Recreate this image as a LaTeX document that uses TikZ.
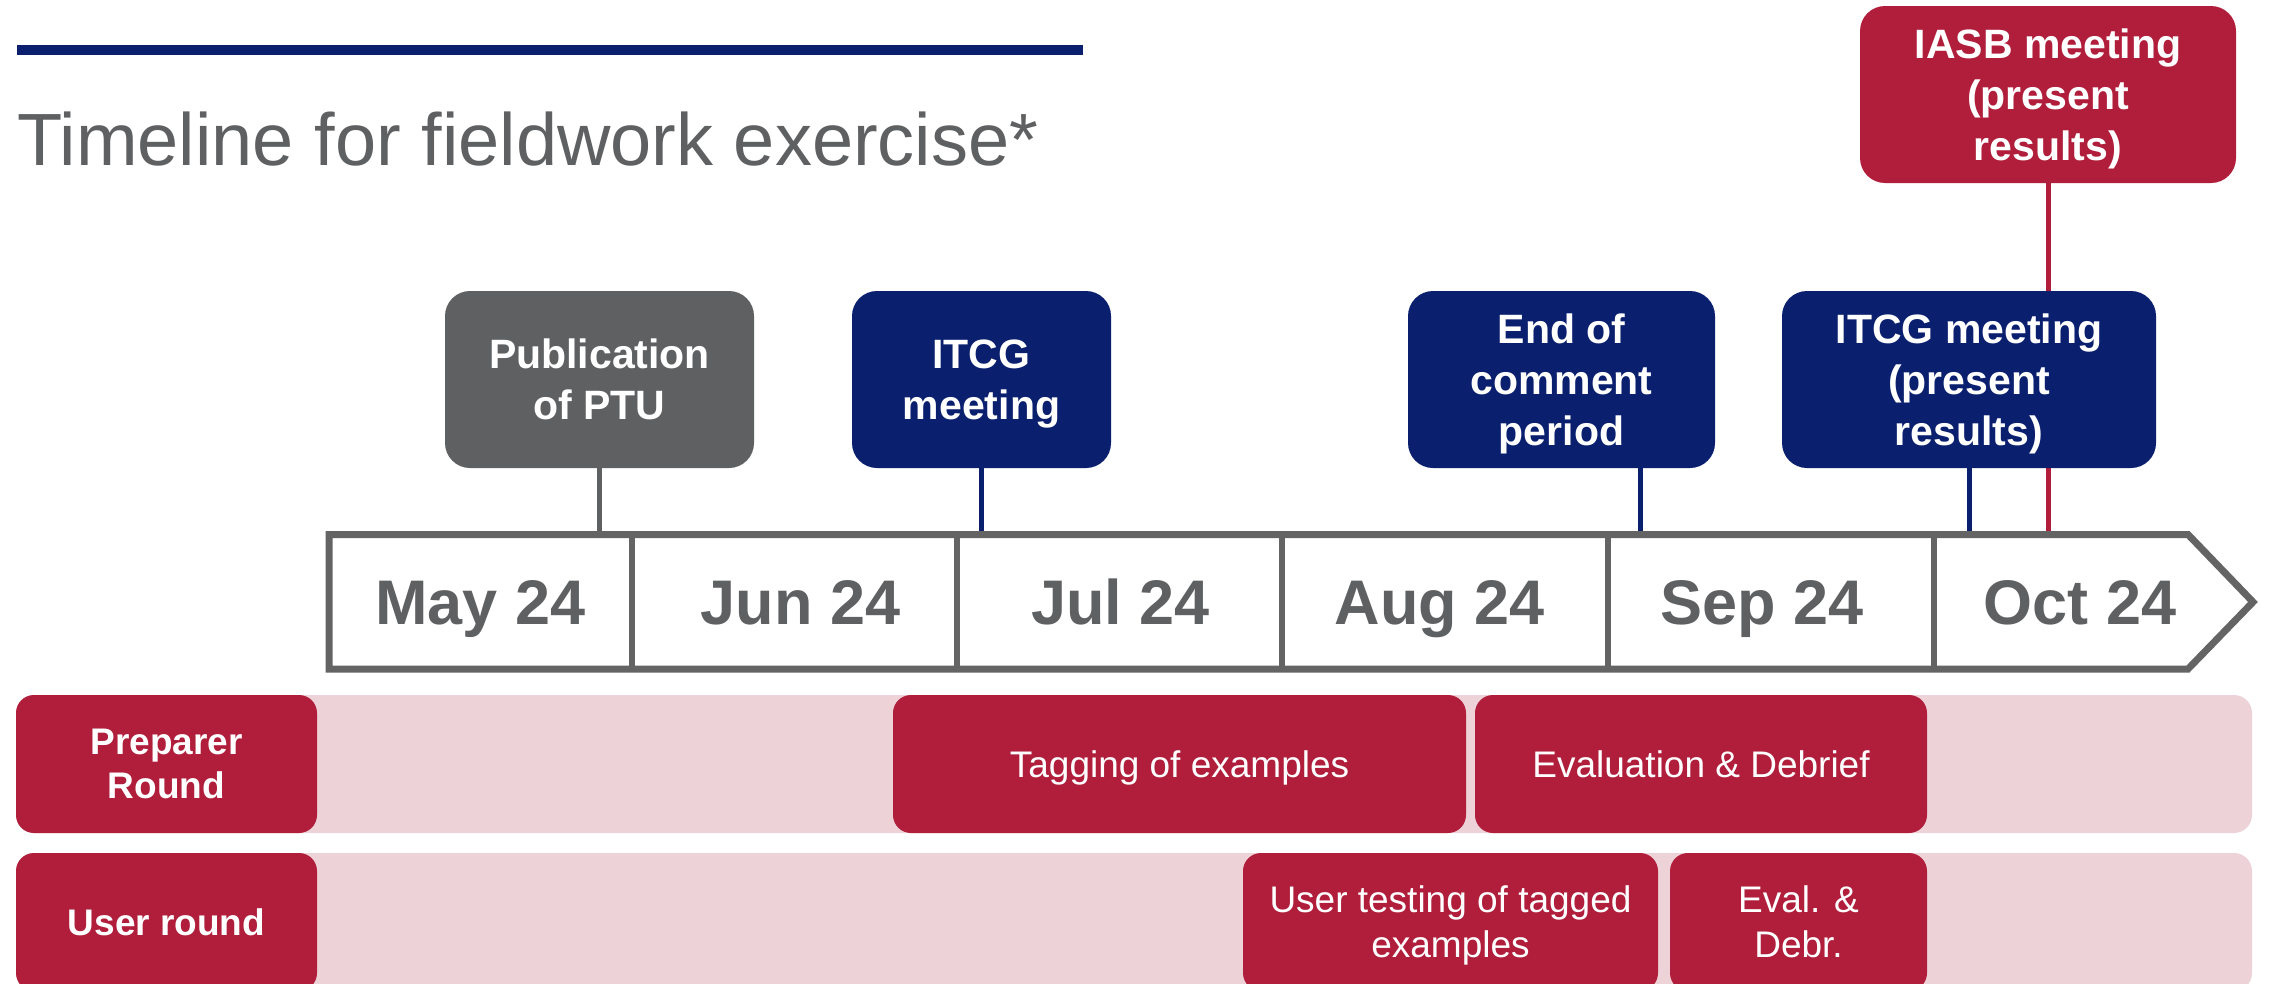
\documentclass[tikz,border=0pt]{standalone}
\usepackage{fontspec}
\setmainfont{Liberation Sans}
\definecolor{navy}{HTML}{0A1F6E}
\definecolor{ifrsred}{HTML}{B01E3B}
\definecolor{boxgray}{HTML}{5F6062}
\definecolor{rowpink}{HTML}{EDD3D8}
\definecolor{tlgray}{HTML}{646464}
\definecolor{txtgray}{HTML}{5F6062}
\newcommand{\nodp}[1]{\raisebox{0pt}[\height][0pt]{#1}}
\begin{document}
\begin{tikzpicture}[x=1pt,y=-1pt,
  evbox/.style={rounded corners=25pt, inner sep=0pt, align=center, text=white,
    font=\fontsize{41pt}{50.7pt}\selectfont\bfseries, minimum height=177pt},
  rowlabel/.style={rounded corners=18pt, fill=ifrsred, inner sep=0pt, align=center, text=white,
    font=\fontsize{37pt}{44pt}\selectfont\bfseries, minimum width=301pt, minimum height=138pt},
  task/.style={rounded corners=18pt, fill=ifrsred, inner sep=0pt, align=center, text=white,
    font=\fontsize{37pt}{45pt}\selectfont, minimum height=138pt},
  rowbg/.style={rounded corners=18pt, fill=rowpink, inner sep=0pt, minimum width=2236pt, minimum height=138pt},
  month/.style={font=\fontsize{63pt}{75pt}\selectfont\bfseries, text=txtgray, inner sep=0pt, anchor=base},
  conn/.style={line width=5pt},
  divider/.style={line width=6pt, draw=tlgray}
]
\clip (0,0) rectangle (2272,983);
\fill[white] (0,0) rectangle (2272,983);

% header
\fill[navy] (17,45) rectangle (1083,55);
\node[anchor=base west, inner sep=0pt, text=txtgray, font=\fontsize{74pt}{88pt}\selectfont] (title) at (17,165) {Timeline for fieldwork exercise*};

% timeline anchor coordinates
\coordinate (tpub) at (599.5,534.5);
\coordinate (titcg) at (981.5,534.5);
\coordinate (teoc) at (1640,534.5);
\coordinate (titcg2) at (1969,534.5);
\coordinate (tiasb) at (2048,534.5);

% IASB connector passes behind the ITCG box
\node[evbox, minimum width=376pt] (iasb) at (2048,94.5) {};
\draw[conn, ifrsred] (iasb.south) -- (tiasb);
\node[evbox, fill=ifrsred, minimum width=376pt] at (iasb) {IASB meeting\\(present\\\nodp{results)}};

\node[evbox, fill=boxgray, minimum width=309pt] (pub) at (599.5,379.5) {Publication\\of PTU};
\node[evbox, fill=navy, minimum width=259pt] (itcg) at (981.5,379.5) {ITCG\\\nodp{meeting}};
\node[evbox, fill=navy, minimum width=307pt] (eoc) at (1561.5,379.5) {End of\\comment\\\nodp{period}};
\node[evbox, fill=navy, minimum width=374pt] (itcg2) at (1969,379.5) {ITCG meeting\\(present\\\nodp{results)}};

\draw[conn, boxgray] (pub.south) -- (tpub);
\draw[conn, navy] (itcg.south) -- (titcg);
\draw[conn, navy] (eoc.south -| teoc) -- (teoc);
\draw[conn, navy] (itcg2.south) -- (titcg2);

% timeline
\draw[line width=7pt, draw=tlgray, line join=miter, fill=white]
  (329,534.5) -- (2188,534.5) -- (2253,602) -- (2188,669) -- (329,669) -- cycle;
\draw[divider] (632,534.5) -- (632,669);
\draw[divider] (957,534.5) -- (957,669);
\draw[divider] (1282,534.5) -- (1282,669);
\draw[divider] (1608,534.5) -- (1608,669);
\draw[divider] (1934,534.5) -- (1934,669);
\node[month] (may) at (480.5,624) {May 24};
\node[month] (jun) at (800.5,624) {Jun 24};
\node[month] (jul) at (1120.5,624) {Jul 24};
\node[month] (aug) at (1440,624) {Aug 24};
\node[month] (sep) at (1762,624) {Sep 24};
\node[month] (oct) at (2080,624) {Oct 24};

% rows
\node[rowbg] (prepbg) at (1134,764) {};
\node[rowbg] (userbg) at (1134,922) {};
\node[rowlabel] (prep) at (166.5,764) {Preparer\\Round};
\node[rowlabel] (user) at (166.5,922) {User round};
\node[task, minimum width=573pt] (tag) at (1179.5,764) {\nodp{Tagging of examples}};
\node[task, minimum width=452pt] (eval) at (1701,764) {Evaluation \& Debrief};
\node[task, minimum width=415pt] (utest) at (1450.5,922) {User testing of tagged\\\nodp{examples}};
\node[task, minimum width=257pt] (ueval) at (1798.5,922) {Eval. \&\\Debr.};
\end{tikzpicture}
\end{document}
